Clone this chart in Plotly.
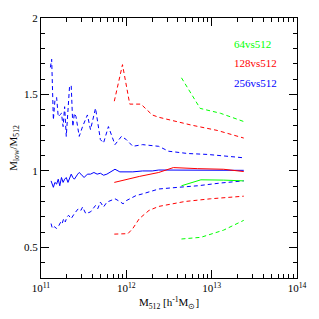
import plotly.graph_objects as go

# ---- data (log10 M512, ratio) ----
b_up_lx = [11.11, 11.125, 11.145, 11.163, 11.183, 11.202, 11.22, 11.24, 11.259, 11.277, 11.296, 11.316, 11.334, 11.354, 11.373, 11.391, 11.41, 11.448, 11.487, 11.544, 11.58, 11.639, 11.696, 11.733, 11.79, 11.867, 11.943, 12.0, 12.076, 12.19, 12.304, 12.38, 12.494, 12.72, 12.95, 13.376]
b_up_y = [1.677, 1.73, 1.334, 1.46, 1.48, 1.355, 1.366, 1.377, 1.29, 1.42, 1.226, 1.377, 1.548, 1.56, 1.29, 1.377, 1.355, 1.226, 1.29, 1.366, 1.27, 1.41, 1.205, 1.183, 1.29, 1.172, 1.226, 1.205, 1.161, 1.172, 1.166, 1.161, 1.129, 1.114, 1.108, 1.086]

b_mid_lx = [11.118, 11.145, 11.163, 11.183, 11.202, 11.22, 11.24, 11.259, 11.277, 11.296, 11.316, 11.334, 11.354, 11.373, 11.391, 11.43, 11.448, 11.468, 11.505, 11.544, 11.58, 11.62, 11.658, 11.696, 11.733, 11.772, 11.81, 11.867, 11.924, 12.0, 12.076, 12.19, 12.304, 12.38, 13.376]
b_mid_y = [0.935, 0.893, 0.925, 0.914, 0.946, 0.903, 0.957, 0.925, 0.946, 0.957, 0.925, 0.946, 0.979, 0.957, 0.946, 0.979, 0.99, 0.979, 0.957, 0.979, 0.979, 0.99, 0.979, 0.985, 0.972, 0.979, 0.99, 1.011, 0.994, 0.994, 0.994, 1.0, 1.0, 1.006, 1.004]

b_lo_lx = [11.118, 11.133, 11.156, 11.183, 11.202, 11.232, 11.247, 11.266, 11.285, 11.304, 11.323, 11.354, 11.391, 11.437, 11.468, 11.487, 11.525, 11.58, 11.639, 11.665, 11.696, 11.733, 11.772, 11.81, 11.867, 11.924, 11.962, 12.0, 12.057, 12.114, 12.19, 12.266, 12.342, 12.38, 12.608, 12.836, 13.103, 13.376]
b_lo_y = [0.656, 0.624, 0.635, 0.624, 0.635, 0.667, 0.656, 0.688, 0.667, 0.699, 0.71, 0.688, 0.721, 0.753, 0.742, 0.764, 0.721, 0.732, 0.774, 0.753, 0.796, 0.764, 0.796, 0.806, 0.818, 0.8, 0.785, 0.806, 0.822, 0.839, 0.85, 0.861, 0.877, 0.882, 0.893, 0.903, 0.921, 0.935]

r_up_lx = [11.859, 11.955, 12.04, 12.171, 12.304, 12.38, 12.76, 13.065, 13.376]
r_up_y = [1.456, 1.695, 1.437, 1.437, 1.366, 1.351, 1.30, 1.265, 1.215]

r_mid_lx = [11.859, 12.0, 12.152, 12.38, 12.551, 12.836, 13.14, 13.376]
r_mid_y = [0.925, 0.946, 0.964, 0.99, 1.022, 1.015, 1.011, 0.996]

r_lo_lx = [11.859, 12.019, 12.076, 12.152, 12.266, 12.38, 12.684, 12.988, 13.376]
r_lo_y = [0.587, 0.59, 0.624, 0.688, 0.742, 0.768, 0.8, 0.818, 0.835]

g_up_lx = [12.646, 12.865, 13.103, 13.376]
g_up_y = [1.609, 1.409, 1.377, 1.323]

g_mid_lx = [12.646, 12.874, 13.14, 13.376]
g_mid_y = [0.903, 0.942, 0.94, 0.935]

g_lo_lx = [12.646, 12.874, 13.14, 13.376]
g_lo_y = [0.555, 0.566, 0.613, 0.677]

legend_labels = ["64vs512", "128vs512", "256vs512"]
colors = ["#00ff00", "#ff0000", "#0000ff"]

x_tickvals = [1e11, 1e12, 1e13, 1e14]
x_ticktext = ["10<sup>11</sup>", "10<sup>12</sup>", "10<sup>13</sup>", "10<sup>14</sup>"]
x_minor = [m * 10**d for d in (11, 12, 13) for m in range(2, 10)]
y_tickvals = [0.5, 1, 1.5, 2]
y_ticktext = ["0.5", "1", "1.5", "2"]
y_minor = [round(0.3 + 0.1 * i, 1) for i in range(18)]

FONT = "Liberation Serif"

fig = go.Figure()

def add(lx, y, color, dash):
    fig.add_trace(go.Scatter(x=[10**v for v in lx], y=y, mode="lines",
                             line=dict(color=color, width=1, dash=dash),
                             showlegend=False, hoverinfo="skip"))

add(b_up_lx, b_up_y, colors[2], "4px,3px")
add(b_mid_lx, b_mid_y, colors[2], "solid")
add(b_lo_lx, b_lo_y, colors[2], "4px,3px")
add(r_up_lx, r_up_y, colors[1], "4px,3px")
add(r_mid_lx, r_mid_y, colors[1], "solid")
add(r_lo_lx, r_lo_y, colors[1], "4px,3px")
add(g_up_lx, g_up_y, colors[0], "4px,3px")
add(g_mid_lx, g_mid_y, colors[0], "solid")
add(g_lo_lx, g_lo_y, colors[0], "4px,3px")

for lab, col, yp in zip(legend_labels, colors, [0.90, 0.826, 0.751]):
    fig.add_annotation(text=lab, xref="paper", yref="paper", x=0.748, y=yp,
                       xanchor="left", yanchor="middle", showarrow=False,
                       font=dict(family=FONT, size=11, color=col))

axis_common = dict(showgrid=False, zeroline=False, showline=True, linecolor="black",
                   linewidth=1, mirror="ticks", ticks="inside", tickcolor="black",
                   ticklen=8, tickwidth=1,
                   tickfont=dict(family=FONT, size=11, color="black"))

fig.update_xaxes(type="log", range=[11, 14], tickvals=x_tickvals, ticktext=x_ticktext,
                 minor=dict(tickvals=x_minor, ticks="inside", ticklen=4, tickcolor="black"),
                 title=dict(text="M<sub>512</sub> [h<sup>-1</sup>M<sub>⊙</sub>]",
                            font=dict(family=FONT, size=11, color="black"), standoff=5),
                 **axis_common)
fig.update_yaxes(range=[0.3, 2], tickvals=y_tickvals, ticktext=y_ticktext,
                 minor=dict(tickvals=y_minor, ticks="inside", ticklen=4, tickcolor="black"),
                 title=dict(text="M<sub>low</sub>/M<sub>512</sub>",
                            font=dict(family=FONT, size=11, color="black"), standoff=4),
                 **axis_common)

fig.update_layout(width=319, height=319, margin=dict(l=39, r=17, t=17, b=40),
                  plot_bgcolor="white", paper_bgcolor="white")

fig.write_html("out.html", config={"displayModeBar": False},
               post_script="document.body.style.margin='0';document.body.style.overflow='hidden';")
